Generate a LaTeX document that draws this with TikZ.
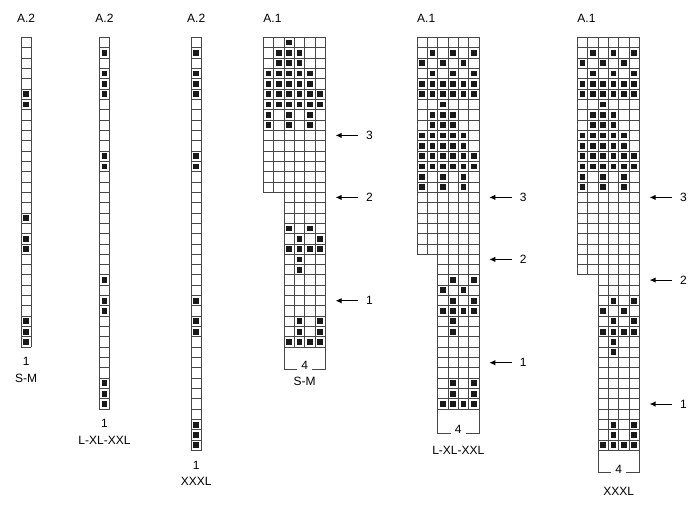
\documentclass[tikz,border=0pt]{standalone}
\usepackage{fontspec}
\setmainfont{Liberation Sans}
\usetikzlibrary{arrows.meta}

\tikzstyle{gridline} = [draw=black!72, line width=0.8pt]
\tikzstyle{stitch} = [fill=black!90]
\tikzstyle{lbl} = [font=\fontsize{12}{14}\selectfont, inner sep=1pt]
\tikzstyle{bracket} = [draw=black!72, line width=0.8pt]
\tikzstyle{rowarrow} = [-{Latex[length=6pt,width=5.5pt]}, line width=1pt, shorten <=7pt]

\begin{document}
\begin{tikzpicture}[x=1pt, y=-1pt]
\useasboundingbox (0,0) rectangle (700,506);

%A.2 S-M
\begin{scope}[shift={(21,37.3)}, x=10.33pt, y=-10.33pt]
\node[lbl] (atwosm) at (0.5,-1.85) {A.2};
\foreach \r in {0,...,30} \draw[gridline] (0,\r) -- (1,\r);
\draw[gridline] (0,0) -- (0,30) (1,0) -- (1,30);
\foreach \r in {6,7,18,20,21,28,29,30}
  \fill[stitch] (0.22,\r-0.78) rectangle (0.78,\r-0.22);
\node[lbl] (atwosmrep) at (0.5,31.4) {1};
\node[lbl] (atwosmsize) at (0.5,33.0) {S-M};
\end{scope}

%A.2 L-XL-XXL
\begin{scope}[shift={(99.3,37.3)}, x=10.33pt, y=-10.33pt]
\node[lbl] (atwolx) at (0.5,-1.85) {A.2};
\foreach \r in {0,...,36} \draw[gridline] (0,\r) -- (1,\r);
\draw[gridline] (0,0) -- (0,36) (1,0) -- (1,36);
\foreach \r in {2,4,5,6,12,13,24,26,27,34,35,36}
  \fill[stitch] (0.22,\r-0.78) rectangle (0.78,\r-0.22);
\node[lbl] (atwolxrep) at (0.5,37.4) {1};
\node[lbl] (atwolxsize) at (0.5,39.0) {L-XL-XXL};
\end{scope}

%A.2 XXXL
\begin{scope}[shift={(191,37.3)}, x=10.33pt, y=-10.33pt]
\node[lbl] (atwoxxxl) at (0.5,-1.85) {A.2};
\foreach \r in {0,...,40} \draw[gridline] (0,\r) -- (1,\r);
\draw[gridline] (0,0) -- (0,40) (1,0) -- (1,40);
\foreach \r in {2,4,5,6,12,13,26,28,29,38,39,40}
  \fill[stitch] (0.22,\r-0.78) rectangle (0.78,\r-0.22);
\node[lbl] (atwoxxxlrep) at (0.5,41.4) {1};
\node[lbl] (atwoxxxlsize) at (0.5,43.0) {XXXL};
\end{scope}

%A.1 S-M
\begin{scope}[shift={(263.3,37.3)}, x=10.33pt, y=-10.33pt]
\node[lbl, anchor=west] (aonesm) at (-0.1,-1.85) {A.1};
\foreach \r in {0,...,15} \draw[gridline] (0,\r) -- (6,\r);
\foreach \r in {16,...,30} \draw[gridline] (2,\r) -- (6,\r);
\foreach \c in {0,1} \draw[gridline] (\c,0) -- (\c,15);
\foreach \c in {2,...,6} \draw[gridline] (\c,0) -- (\c,30);
\foreach \r/\cols in {1/{3}, 2/{2,3,4}, 3/{2,3,4}, 4/{1,...,5}, 5/{1,...,5},
    6/{1,...,6}, 7/{1,...,6}, 8/{1,3,5}, 9/{1,3,5},
    19/{3,5}, 20/{4,6}, 21/{3,4,5,6}, 22/{4}, 23/{4},
    28/{4,6}, 29/{4,6}, 30/{3,4,5,6}}
  \foreach \c in \cols
    \fill[stitch] (\c-0.78,\r-0.78) rectangle (\c-0.22,\r-0.22);
%Bracket and arrows
\draw[bracket] (3.3,32.15) -- (2,32.15) -- (2,30);
\draw[bracket] (4.7,32.15) -- (6,32.15) -- (6,30);
\node[lbl] (aonesmrep) at (4,31.8) {4};
\node[lbl] (aonesmsize) at (4,33.3) {S-M};
\node[lbl] (smthree) at (10.27,9.5) {3};
\node[lbl] (smtwo) at (10.27,15.5) {2};
\node[lbl] (smone) at (10.27,25.5) {1};
\coordinate (smthreetip) at (7,9.5);
\coordinate (smtwotip) at (7,15.5);
\coordinate (smonetip) at (7,25.5);
\draw[rowarrow] (smthree.west) -- (smthreetip);
\draw[rowarrow] (smtwo.west) -- (smtwotip);
\draw[rowarrow] (smone.west) -- (smonetip);
\end{scope}

%A.1 L-XL-XXL
\begin{scope}[shift={(417,37.3)}, x=10.33pt, y=-10.33pt]
\node[lbl, anchor=west] (aonelx) at (-0.1,-1.85) {A.1};
\foreach \r in {0,...,21} \draw[gridline] (0,\r) -- (6,\r);
\foreach \r in {22,...,36} \draw[gridline] (2,\r) -- (6,\r);
\foreach \c in {0,1} \draw[gridline] (\c,0) -- (\c,21);
\foreach \c in {2,...,6} \draw[gridline] (\c,0) -- (\c,36);
\foreach \r/\cols in {2/{2,4,6}, 3/{1,3,5}, 4/{2,4,6}, 5/{1,...,6}, 6/{1,...,6},
    7/{3}, 8/{2,3,4}, 9/{2,3,4}, 10/{1,...,5}, 11/{1,...,5},
    12/{1,...,6}, 13/{1,...,6}, 14/{1,3,5}, 15/{1,3,5},
    24/{4,6}, 25/{3,5}, 26/{4,6}, 27/{3,4,5,6}, 28/{4}, 29/{4},
    34/{4,6}, 35/{4,6}, 36/{3,4,5,6}}
  \foreach \c in \cols
    \fill[stitch] (\c-0.78,\r-0.78) rectangle (\c-0.22,\r-0.22);
%Bracket and arrows
\draw[bracket] (3.3,38.3) -- (2,38.3) -- (2,36);
\draw[bracket] (4.7,38.3) -- (6,38.3) -- (6,36);
\node[lbl] (aonelxrep) at (4,37.95) {4};
\node[lbl] (aonelxsize) at (4,39.95) {L-XL-XXL};
\node[lbl] (lxthree) at (10.27,15.5) {3};
\node[lbl] (lxtwo) at (10.27,21.5) {2};
\node[lbl] (lxone) at (10.27,31.5) {1};
\coordinate (lxthreetip) at (7,15.5);
\coordinate (lxtwotip) at (7,21.5);
\coordinate (lxonetip) at (7,31.5);
\draw[rowarrow] (lxthree.west) -- (lxthreetip);
\draw[rowarrow] (lxtwo.west) -- (lxtwotip);
\draw[rowarrow] (lxone.west) -- (lxonetip);
\end{scope}

%A.1 XXXL
\begin{scope}[shift={(577.3,37.3)}, x=10.33pt, y=-10.33pt]
\node[lbl, anchor=west] (aonexxxl) at (-0.1,-1.85) {A.1};
\foreach \r in {0,...,23} \draw[gridline] (0,\r) -- (6,\r);
\foreach \r in {24,...,40} \draw[gridline] (2,\r) -- (6,\r);
\foreach \c in {0,1} \draw[gridline] (\c,0) -- (\c,23);
\foreach \c in {2,...,6} \draw[gridline] (\c,0) -- (\c,40);
\foreach \r/\cols in {2/{2,4,6}, 3/{1,3,5}, 4/{2,4,6}, 5/{1,...,6}, 6/{1,...,6},
    7/{3}, 8/{2,3,4}, 9/{2,3,4}, 10/{1,...,5}, 11/{1,...,5},
    12/{1,...,6}, 13/{1,...,6}, 14/{1,3,5}, 15/{1,3,5},
    26/{4,6}, 27/{3,5}, 28/{4,6}, 29/{3,4,5,6}, 30/{4}, 31/{4},
    38/{4,6}, 39/{4,6}, 40/{3,4,5,6}}
  \foreach \c in \cols
    \fill[stitch] (\c-0.78,\r-0.78) rectangle (\c-0.22,\r-0.22);
%Bracket and arrows
\draw[bracket] (3.3,42.15) -- (2,42.15) -- (2,40);
\draw[bracket] (4.7,42.15) -- (6,42.15) -- (6,40);
\node[lbl] (aonexxxlrep) at (4,41.8) {4};
\node[lbl] (aonexxxlsize) at (4,44.0) {XXXL};
\node[lbl] (xlthree) at (10.27,15.5) {3};
\node[lbl] (xltwo) at (10.27,23.5) {2};
\node[lbl] (xlone) at (10.27,35.5) {1};
\coordinate (xlthreetip) at (7,15.5);
\coordinate (xltwotip) at (7,23.5);
\coordinate (xlonetip) at (7,35.5);
\draw[rowarrow] (xlthree.west) -- (xlthreetip);
\draw[rowarrow] (xltwo.west) -- (xltwotip);
\draw[rowarrow] (xlone.west) -- (xlonetip);
\end{scope}
\end{tikzpicture}
\end{document}
